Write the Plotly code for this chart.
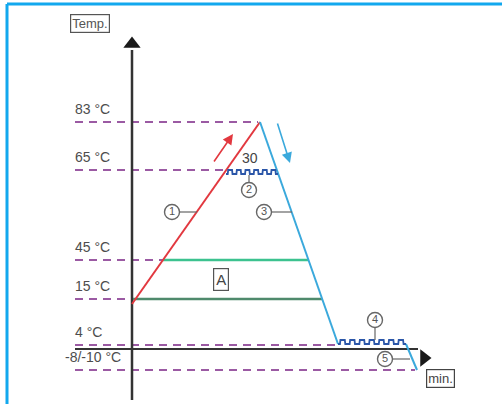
import plotly.graph_objects as go

# Schematic temperature profile. x = time (drawing units), y = height in drawing (axis reversed)
level_labels = ['83 °C', '65 °C', '45 °C', '15 °C', '4 °C', '-8/-10 °C']
level_y = [122, 170, 260, 299, 345, 370]
level_dash_end = [258, 226, 163, 133, 338, 415]

heat_x = [132, 260]
heat_y = [304, 122]
cool_x = [260, 338]
cool_y = [122, 344]
freeze_x = [406, 417]
freeze_y = [344, 370]

band_x0 = [163, 133]
band_x1 = [308, 322]
band_y = [260, 299]

hold_x0 = [226, 338]
hold_x1 = [278, 406]
hold_y = [174, 344]
hold_bumps = [6, 7]

callout_text = ['1', '2', '3', '4', '5']
callout_x = [172, 249, 264, 375, 385]
callout_y = [212, 190, 212, 320, 359]
leader_x = [197, 249, 292, 375, 410]
leader_y = [212, 175, 212, 340, 359]

RED = '#e2383f'
BLUE = '#3ba9dc'
WAVE = '#2b56a8'
DASH = '#9b5aa3'
GREEN_LIGHT = '#3cc28f'
GREEN_DARK = '#4f8a6c'
AXIS = '#333333'
TEXT = '#4d4d4d'
FONT = 'Liberation Sans, Arial, sans-serif'


def wave_path(x0, x1, y, n, amp=4):
    """Square-ish wave used for the holding phases."""
    w = (x1 - x0) / n
    xs, ys = [], []
    for i in range(n):
        s = x0 + i * w
        xs += [s, s + 0.2 * w, s + 0.25 * w, s + 0.7 * w, s + 0.75 * w, s + w]
        ys += [y, y, y - amp, y - amp, y, y]
    return xs, ys


def line(fig, xs, ys, color, width=2, dash=None):
    fig.add_trace(go.Scatter(x=xs, y=ys, mode='lines', hoverinfo='skip',
                             line=dict(color=color, width=width, dash=dash)))


fig = go.Figure()

# blue frame
line(fig, [7, 502], [4, 4], '#12a8ee', width=3)
line(fig, [7, 7], [4, 404], '#12a8ee', width=3)

# dashed temperature levels + labels
for lab, y, xe in zip(level_labels, level_y, level_dash_end):
    line(fig, [75, xe], [y, y], DASH, width=2, dash='8px,6px')
    fig.add_annotation(x=63 if lab.startswith('-') else 73, y=y - 3, text=lab, showarrow=False,
                       xanchor='left', yanchor='bottom', font=dict(size=14, color=TEXT, family=FONT))

# axes
line(fig, [75, 418], [349, 349], AXIS, width=2)
line(fig, [132, 132], [400, 50], AXIS, width=2.5)
fig.add_trace(go.Scatter(x=[132], y=[44], mode='markers', hoverinfo='skip',
                         marker=dict(symbol='triangle-up', size=15, color='#1a1a1a')))
fig.add_trace(go.Scatter(x=[424], y=[358], mode='markers', hoverinfo='skip',
                         marker=dict(symbol='triangle-right', size=15, color='#1a1a1a')))

# zone A bands
line(fig, [band_x0[0], band_x1[0]], [band_y[0], band_y[0]], GREEN_LIGHT, width=2.5)
line(fig, [band_x0[1], band_x1[1]], [band_y[1], band_y[1]], GREEN_DARK, width=2.5)

# profile
line(fig, heat_x, heat_y, RED, width=2)
line(fig, cool_x, cool_y, BLUE, width=2)
line(fig, freeze_x, freeze_y, BLUE, width=2)
for x0, x1, y, n in zip(hold_x0, hold_x1, hold_y, hold_bumps):
    wx, wy = wave_path(x0, x1, y, n)
    line(fig, wx, wy, WAVE, width=1.8)

# callouts
for cx, cy, lx, ly in zip(callout_x, callout_y, leader_x, leader_y):
    if cy == ly:
        sx, sy = cx + 7 if lx > cx else cx - 7, cy
    else:
        sx, sy = cx, cy - 7 if ly < cy else cy + 7
    line(fig, [sx, lx], [sy, ly], '#666666', width=1.2)
fig.add_trace(go.Scatter(x=callout_x, y=callout_y, mode='markers+text', text=callout_text,
                         textposition='middle center', hoverinfo='skip',
                         textfont=dict(size=11, color='#555555', family=FONT),
                         marker=dict(symbol='circle', size=15, color='white',
                                     line=dict(color='#666666', width=1.4))))

# direction arrows
fig.add_annotation(x=233, y=134, ax=213, ay=163, xref='x', yref='y', axref='x', ayref='y',
                   text='', showarrow=True, arrowhead=2, arrowsize=1.3, arrowwidth=1.6, arrowcolor=RED)
fig.add_annotation(x=290, y=163, ax=277, ay=122, xref='x', yref='y', axref='x', ayref='y',
                   text='', showarrow=True, arrowhead=2, arrowsize=1.3, arrowwidth=1.6, arrowcolor=BLUE)

# text
fig.add_annotation(x=250, y=158, text='30', showarrow=False,
                   font=dict(size=14, color='#444444', family=FONT))
fig.add_annotation(x=221, y=279, text='A', showarrow=False, bordercolor='#555555', borderwidth=1.2,
                   borderpad=2, bgcolor='white', font=dict(size=15, color='#444444', family=FONT))
fig.add_annotation(x=90, y=23, text='Temp.', showarrow=False, bordercolor='#555555', borderwidth=1.2,
                   borderpad=1, bgcolor='white', font=dict(size=13, color='#555555', family=FONT))
fig.add_annotation(x=440, y=378, text='min.', showarrow=False, bordercolor='#444444', borderwidth=1.2,
                   borderpad=1, bgcolor='white', font=dict(size=13, color='#444444', family=FONT))

fig.update_layout(
    width=502, height=404,
    margin=dict(l=0, r=0, t=0, b=0),
    showlegend=False,
    plot_bgcolor='white', paper_bgcolor='white',
    xaxis=dict(range=[0, 502], visible=False, fixedrange=True),
    yaxis=dict(range=[404, 0], visible=False, fixedrange=True),
)

fig.write_html('out.html', config={'displayModeBar': False},
               post_script="document.body.style.margin='0';")
